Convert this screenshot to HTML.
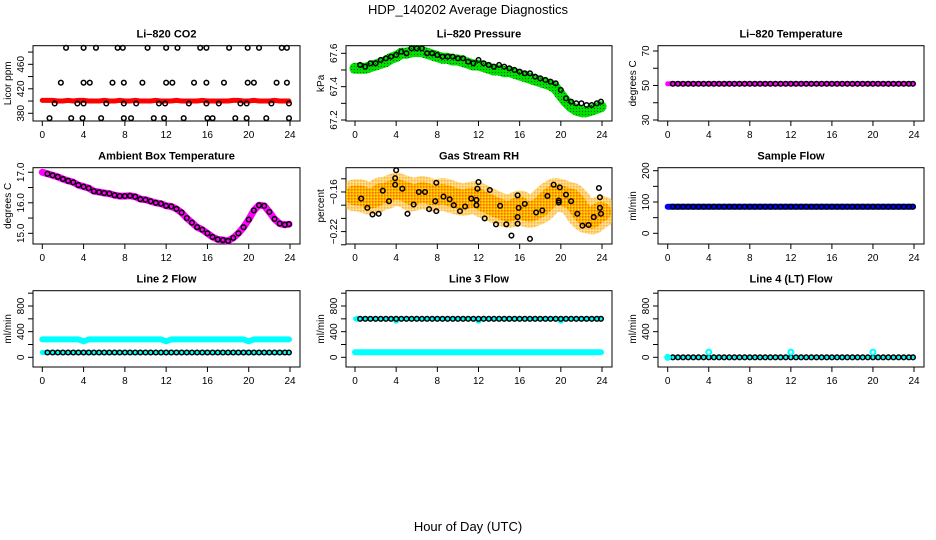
<!DOCTYPE html>
<html><head><meta charset="utf-8"><style>
html,body{margin:0;padding:0;background:#fff}
svg{display:block;font-family:"Liberation Sans",Arial,sans-serif}
</style></head><body>
<svg id="chart" width="936" height="540" viewBox="0 0 936 540">
<defs>
<pattern id="rhpat" width="3" height="3" patternUnits="userSpaceOnUse"><rect width="3" height="3" fill="#ffb000"/><rect width="1.5" height="1.5" fill="#ff6a00"/><rect x="1.5" y="1.5" width="1.5" height="1.5" fill="#ffe000"/></pattern>
<pattern id="prespat" width="3" height="3" patternUnits="userSpaceOnUse"><rect width="3" height="3" fill="#00e000"/><rect width="1" height="1" fill="#006000"/></pattern>
<clipPath id="rhclip"><rect x="346" y="167.7" width="266" height="76.3"/></clipPath>
</defs>
<text x="468" y="14" text-anchor="middle" font-size="13">HDP_140202  Average Diagnostics</text>
<text x="468" y="531" text-anchor="middle" font-size="13">Hour of Day (UTC)</text>
</svg>
<script>
// ---- shared x data ----
const hours = [0.5,1,1.5,2,2.5,3,3.5,4,4.5,5,5.5,6,6.5,7,7.5,8,8.5,9,9.5,10,10.5,11,11.5,12,12.5,13,13.5,14,14.5,15,15.5,16,16.5,17,17.5,18,18.5,19,19.5,20,20.5,21,21.5,22,22.5,23,23.5,23.9];
const xTicks = [0,4,8,12,16,20,24];

// ---- CO2 ----
const co2Hours = [2.3,4.0,5.2,7.3,7.8,10.2,12.0,13.1,15.3,15.9,18.1,19.9,21.0,23.2,23.7, 1.8,4.0,4.6,6.8,7.9,9.7,12.0,12.6,14.7,15.9,17.6,19.9,20.5,22.7,23.7, 1.2,3.4,4.0,6.2,7.9,9.1,11.3,11.9,14.2,15.9,17.1,19.2,19.8,22.2,23.9, 0.7,2.8,3.9,5.7,7.9,8.6,10.8,11.8,13.7,16.0,16.5,18.7,19.8,21.7,23.9];
const co2Values = [487,487,487,487,487,487,487,487,487,487,487,487,487,487,487, 430,430,430,430,430,430,430,430,430,430,430,430,430,430,430, 396,396,396,396,396,396,396,396,396,396,396,396,396,396,396, 372,372,372,372,372,372,372,372,372,372,372,372,372,372,372];
const co2Band = [401,401,400,400,401,400,401,401,400,400,400,401,400,400,401,400,400,401,400,400,400,401,400,400,400,401,400,400,400,400,401,400,400,400,400,400,401,401,400,400,401,400,400,400,401,400,400,400];

// ---- Pressure ----
const presValues = [67.53,67.52,67.54,67.54,67.56,67.57,67.58,67.59,67.61,67.6,67.63,67.63,67.63,67.6,67.6,67.59,67.58,67.58,67.58,67.57,67.57,67.55,67.54,67.56,67.54,67.53,67.52,67.53,67.52,67.51,67.5,67.49,67.48,67.48,67.46,67.45,67.44,67.43,67.42,67.38,67.33,67.31,67.3,67.3,67.29,67.29,67.3,67.31];
const presBand = [67.51,67.51,67.52,67.53,67.54,67.55,67.57,67.58,67.6,67.6,67.61,67.61,67.61,67.6,67.59,67.58,67.57,67.57,67.56,67.56,67.55,67.54,67.53,67.53,67.52,67.51,67.5,67.5,67.49,67.49,67.48,67.47,67.46,67.45,67.44,67.43,67.42,67.41,67.39,67.35,67.31,67.28,67.26,67.25,67.25,67.26,67.27,67.28];

// ---- Li-820 temperature ----
const ltempValues = [51,51,51,51,51,51,51,51,51,51,51,51,51,51,51,51,51,51,51,51,51,51,51,51,51,51,51,51,51,51,51,51,51,51,51,51,51,51,51,51,51,51,51,51,51,51,51,51];

// ---- Ambient box temperature ----
const ambValues = [16.95,16.9,16.85,16.78,16.72,16.67,16.58,16.53,16.48,16.38,16.35,16.32,16.3,16.25,16.22,16.22,16.23,16.2,16.12,16.1,16.05,16.0,15.97,15.9,15.88,15.8,15.68,15.5,15.35,15.2,15.12,15.0,14.88,14.8,14.78,14.75,14.85,15.0,15.2,15.45,15.75,15.92,15.9,15.7,15.47,15.32,15.28,15.3];

// ---- Gas stream RH ----
const rhHours = [0.6,1.2,1.7,2.3,2.7,3.3,3.9,3.9,4.0,4.6,5.1,5.7,6.2,6.8,7.2,7.8,7.9,7.9,8.6,9.2,9.6,10.2,10.7,11.3,11.8,11.8,11.9,12.0,12.6,13.1,13.7,14.1,14.7,15.2,15.8,15.8,15.8,15.9,16.5,17.0,17.6,18.2,18.7,19.3,19.8,19.8,19.9,20.5,21.0,21.6,22.1,22.7,23.2,23.7,23.8,23.8,23.9];
const rhValues = [-0.170,-0.184,-0.194,-0.193,-0.158,-0.174,-0.139,-0.149,-0.127,-0.155,-0.193,-0.179,-0.160,-0.160,-0.186,-0.174,-0.189,-0.146,-0.167,-0.171,-0.180,-0.189,-0.182,-0.170,-0.172,-0.180,-0.155,-0.145,-0.200,-0.157,-0.209,-0.181,-0.209,-0.226,-0.165,-0.198,-0.208,-0.184,-0.178,-0.231,-0.191,-0.188,-0.166,-0.149,-0.173,-0.176,-0.153,-0.164,-0.174,-0.193,-0.211,-0.210,-0.198,-0.154,-0.168,-0.184,-0.193];
const rhBand = [-0.165,-0.168,-0.17,-0.168,-0.162,-0.162,-0.158,-0.155,-0.158,-0.16,-0.165,-0.163,-0.16,-0.162,-0.165,-0.165,-0.163,-0.165,-0.168,-0.17,-0.172,-0.17,-0.168,-0.17,-0.175,-0.178,-0.182,-0.185,-0.188,-0.19,-0.185,-0.182,-0.188,-0.19,-0.187,-0.183,-0.175,-0.168,-0.163,-0.165,-0.168,-0.17,-0.178,-0.19,-0.198,-0.2,-0.193,-0.19];

// ---- Sample flow ----
const sampleValues = [85,85,85,85,85,85,85,85,85,85,85,85,85,85,85,85,85,85,85,85,85,85,85,85,85,85,85,85,85,85,85,85,85,85,85,85,85,85,85,85,85,85,85,85,85,85,85,85];

// ---- Line 2 flow ----
const l2Black = [75,75,75,75,75,75,75,75,75,75,75,75,75,75,75,75,75,75,75,75,75,75,75,75,75,75,75,75,75,75,75,75,75,75,75,75,75,75,75,75,75,75,75,75,75,75,75,75];
const l2Cyan = [280,280,280,280,280,280,280,250,280,280,280,280,280,280,280,280,280,280,280,280,280,280,280,250,280,280,280,280,280,280,280,280,280,280,280,280,280,280,280,250,280,280,280,280,280,280,280,280];

// ---- Line 3 flow ----
const l3Black = [600,600,600,600,600,600,600,600,600,600,600,600,600,600,600,600,600,600,600,600,600,600,600,600,600,600,600,600,600,600,600,600,600,600,600,600,600,600,600,600,600,600,600,600,600,600,600,600];
const l3CyanHigh = [600,570,570,570];
const l3CyanHighHours = [0.2,4,12,20];
const l3Cyan = [80,80,80,80,80,80,80,80,80,80,80,80,80,80,80,80,80,80,80,80,80,80,80,80,80,80,80,80,80,80,80,80,80,80,80,80,80,80,80,80,80,80,80,80,80,80,80,80];

// ---- Line 4 flow ----
const l4Black = [0,0,0,0,0,0,0,0,0,0,0,0,0,0,0,0,0,0,0,0,0,0,0,0,0,0,0,0,0,0,0,0,0,0,0,0,0,0,0,0,0,0,0,0,0,0,0,0];
const l4CyanHours = [0.0,4,12,20];
const l4CyanValues = [0,80,80,80];

const NS = "http://www.w3.org/2000/svg";
const svg = document.getElementById('chart');
function el(tag, attrs, parent){
  const e = document.createElementNS(NS, tag);
  for (const k in attrs) e.setAttribute(k, attrs[k]);
  (parent||svg).appendChild(e);
  return e;
}

function makePanel(p){
  const g = el('g', {});
  
  
  const tx0 = p.bx0, tx1 = p.bx1;
  const xs = h => p.x0 + (h/24)*(p.x24 - p.x0);
  const ys = v => p.by1 - (v - p.ymin)/(p.ymax - p.ymin)*(p.by1 - p.by0);
  p.xs = xs; p.ys = ys; p.g = g;
  const t = el('text', {x:(tx0+tx1)/2, y:p.by0-8, 'text-anchor':'middle','font-size':11,'font-weight':'bold'}, g);
  t.textContent = p.title;
  
  
  const box = el('rect', {x:tx0, y:p.by0, width:tx1-tx0, height:p.by1-p.by0, fill:'none', stroke:'#000','stroke-width':1}, g);
  
  
  const xa = el('g', {}, g);
  
  
  el('line', {x1:xs(0), x2:xs(24), y1:p.by1, y2:p.by1, stroke:'#000'}, xa);
  xTicks.forEach(h => {
    el('line', {x1:xs(h), x2:xs(h), y1:p.by1, y2:p.by1+5, stroke:'#000'}, xa);
    const l = el('text', {x:xs(h), y:p.by1+17, 'text-anchor':'middle','font-size':10}, xa);
    l.textContent = h;
    
    
  });
  const ya = el('g', {}, g);
  
  
  el('line', {x1:tx0, x2:tx0, y1:ys(p.yticks[0]), y2:ys(p.yticks[p.yticks.length-1]), stroke:'#000'}, ya);
  p.yticks.forEach(v => el('line', {x1:tx0-5, x2:tx0, y1:ys(v), y2:ys(v), stroke:'#000'}, ya));
  p.ylabels.forEach((v,i) => {
    const x = tx0 - 9, y = ys(v);
    const l = el('text', {x:x, y:y, 'text-anchor':'middle','font-size':10, transform:`rotate(-90 ${x} ${y})`}, ya);
    l.textContent = p.ylabelText[i];
    
    
  });
  const yx = tx0 - 22, yy = (p.by0+p.by1)/2;
  const yt = el('text', {x:yx, y:yy, 'text-anchor':'middle','font-size':10, transform:`rotate(-90 ${yx} ${yy})`}, g);
  yt.textContent = p.ylab;
  
  
  return p;
}

function band(p, hs, vs, color, width, name, op, clip){
  const pts = hs.map((h,i)=>p.xs(h).toFixed(1)+','+p.ys(vs[i]).toFixed(1)).join(' ');
  const s = el('polyline', {points:pts, fill:'none', stroke:color, 'stroke-width':width, 'stroke-linejoin':'round','stroke-linecap':'round', 'stroke-opacity':op||1}, p.g);
  if (clip) s.setAttribute('clip-path', clip);
  
  
}
function dots(p, hs, vs, color, r, name){
  hs.forEach((h,i)=>{
    const c = el('circle', {cx:p.xs(h), cy:p.ys(vs[i]), r:r, fill:color}, p.g);
    
    
  });
}
function rings(p, hs, vs, name){
  hs.forEach((h,i)=>{
    const c = el('circle', {cx:p.xs(h), cy:p.ys(vs[i]), r:2.3, fill:'none', stroke:'#000','stroke-width':1.5}, p.g);
    
    
  });
}

const C1 = {bx0:33, bx1:300, x0:42.3, x24:290};
const C2 = {bx0:346, bx1:612, x0:355, x24:602};
const C3 = {bx0:658, bx1:924, x0:667.7, x24:914};
const R1 = {by0:45.7, by1:121}, R2 = {by0:167.7, by1:244}, R3 = {by0:290.7, by1:367};

const band0 = [0].concat(hours);
function withStart(arr){ return [arr[0]].concat(arr); }

let p = makePanel(Object.assign({name:'co2', title:'Li\u2013820 CO2', ylab:'Licor ppm', ymin:367.4, ymax:490.4, yticks:[380,400,420,440,460,480], ylabels:[380,420,460], ylabelText:['380','420','460']}, C1, R1));
band(p, band0, withStart(co2Band), '#ff0000', 5, 'co2-raw-band');
rings(p, co2Hours, co2Values, 'co2-hourly-point');

p = makePanel(Object.assign({name:'pressure', title:'Li\u2013820 Pressure', ylab:'kPa', ymin:67.194, ymax:67.6456, yticks:[67.2,67.3,67.4,67.5,67.6], ylabels:[67.2,67.4,67.6], ylabelText:['67.2','67.4','67.6']}, C2, R1));
band(p, band0, withStart(presBand), 'url(#prespat)', 11, 'pressure-raw-band');
rings(p, hours, presValues, 'pressure-point');

p = makePanel(Object.assign({name:'li820-temp', title:'Li\u2013820 Temperature', ylab:'degrees C', ymin:29.42, ymax:73.07, yticks:[30,40,50,60,70], ylabels:[30,50,70], ylabelText:['30','50','70']}, C3, R1));
band(p, band0, withStart(ltempValues), '#ff00ff', 5, 'li820-temp-band');
rings(p, hours, ltempValues, 'li820-temp-point');

p = makePanel(Object.assign({name:'ambient-temp', title:'Ambient Box Temperature', ylab:'degrees C', ymin:14.65, ymax:17.15, yticks:[15,15.5,16,16.5,17], ylabels:[15,16,17], ylabelText:['15.0','16.0','17.0']}, C1, R2));
band(p, band0, [17.0].concat(ambValues), '#ff00ff', 7, 'ambient-temp-band');
rings(p, hours, ambValues, 'ambient-temp-point');

p = makePanel(Object.assign({name:'gas-rh', title:'Gas Stream RH', ylab:'percent', ymin:-0.2388, ymax:-0.1232, yticks:[-0.24,-0.22,-0.2,-0.18,-0.16,-0.14], ylabels:[-0.22,-0.16], ylabelText:['\u22120.22','\u22120.16']}, C2, R2));
band(p, band0, withStart(rhBand), 'url(#rhpat)', 32, 'rh-raw-band', 0.55, 'url(#rhclip)');
band(p, band0, withStart(rhBand), 'url(#rhpat)', 20, 'rh-raw-band-core', 1, 'url(#rhclip)');
rings(p, rhHours, rhValues, 'rh-point');

p = makePanel(Object.assign({name:'sample-flow', title:'Sample Flow', ylab:'ml/min', ymin:-34.2, ymax:209.6, yticks:[0,50,100,150,200], ylabels:[0,100,200], ylabelText:['0','100','200']}, C3, R2));
band(p, band0, withStart(sampleValues), '#0000ff', 6, 'sample-flow-band');
rings(p, hours, sampleValues, 'sample-flow-point');

const flowTicks = [0,200,400,600,800,1000];
p = makePanel(Object.assign({name:'line2-flow', title:'Line 2 Flow', ylab:'ml/min', ymin:-151, ymax:1038.7, yticks:flowTicks, ylabels:[0,400,800], ylabelText:['0','400','800']}, C1, R3));
band(p, band0, withStart(l2Cyan), '#00ffff', 6, 'line2-cyan-band');
band(p, band0, withStart(l2Black), '#00ffff', 5, 'line2-low-band');
rings(p, hours, l2Black, 'line2-point');

p = makePanel(Object.assign({name:'line3-flow', title:'Line 3 Flow', ylab:'ml/min', ymin:-151, ymax:1038.7, yticks:flowTicks, ylabels:[0,400,800], ylabelText:['0','400','800']}, C2, R3));
band(p, band0, withStart(l3Cyan), '#00ffff', 6, 'line3-cyan-band');
dots(p, l3CyanHighHours, l3CyanHigh, '#00ffff', 3, 'line3-cyan-point');
band(p, band0, withStart(l3Black), '#00ffff', 4, 'line3-high-band');
rings(p, hours, l3Black, 'line3-point');

p = makePanel(Object.assign({name:'line4-flow', title:'Line 4 (LT) Flow', ylab:'ml/min', ymin:-151, ymax:1038.7, yticks:flowTicks, ylabels:[0,400,800], ylabelText:['0','400','800']}, C3, R3));
band(p, band0, withStart(l4Black), '#00ffff', 3, 'line4-band');
rings(p, hours, l4Black, 'line4-point');
l4CyanHours.forEach((h,i)=>{
  const c = el('circle', {cx:p.xs(h), cy:p.ys(l4CyanValues[i]), r:2.5, fill:'none', stroke:'#00ffff','stroke-width':2}, p.g);
  
  
});
</script>
</body></html>
